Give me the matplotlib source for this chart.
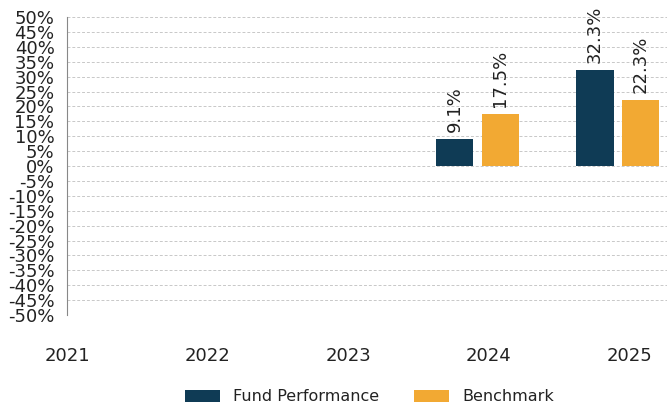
import matplotlib.pyplot as plt
import numpy as np

# data
years = ['2021', '2022', '2023', '2024', '2025']
fund = [None, None, None, 9.1, 32.3]
benchmark = [None, None, None, 17.5, 22.3]

fund_color = '#0f3b55'
bench_color = '#f2a933'
text_color = '#222222'

fig = plt.figure(figsize=(6.67, 4.07), dpi=100)
ax = fig.add_axes([0.1004, 0.226, 0.8996, 0.732])

x = np.arange(len(years))
w = 0.265
off = 0.163

# only draw the years that have values
fx = [i for i, v in enumerate(fund) if v is not None]
bx = [i for i, v in enumerate(benchmark) if v is not None]
fv = [fund[i] for i in fx]
bv = [benchmark[i] for i in bx]

b1 = ax.bar(np.array(fx) - off, fv, w, color=fund_color, label='Fund Performance', zorder=3)
b2 = ax.bar(np.array(bx) + off, bv, w, color=bench_color, label='Benchmark', zorder=3)

for bars, vals in ((b1, fv), (b2, bv)):
    for rect, v in zip(bars, vals):
        ax.annotate(f'{v:.1f}%', (rect.get_x() + rect.get_width() / 2, rect.get_height()),
                    xytext=(0, 5), textcoords='offset points', rotation=90,
                    ha='center', va='bottom', fontsize=13, color=text_color)

ax.set_ylim(-50, 50)
ax.set_xlim(0.096, 4.35)
ax.set_yticks(np.arange(-50, 51, 5))
ax.set_yticklabels([f'{t}%' for t in range(-50, 51, 5)], fontsize=13, color=text_color)
ax.set_xticks(x + 0.08)
ax.set_xticklabels(years, fontsize=13, color=text_color)
ax.tick_params(axis='x', length=0, pad=23)
ax.tick_params(axis='y', length=0, pad=9)

ax.yaxis.grid(True, ls=(0, (3, 2)), color='#c8c8c8', lw=0.7, zorder=0)
for s in ('top', 'right', 'bottom'):
    ax.spines[s].set_visible(False)
ax.spines['left'].set_color('#888888')

fig.legend(handles=[b1, b2], loc='center', bbox_to_anchor=(0.554, 0.025), ncol=2,
           frameon=False, fontsize=11.5, handlelength=2.2, handleheight=0.8,
           columnspacing=2.2, labelcolor=text_color)

fig.savefig('out.png', dpi=100)
